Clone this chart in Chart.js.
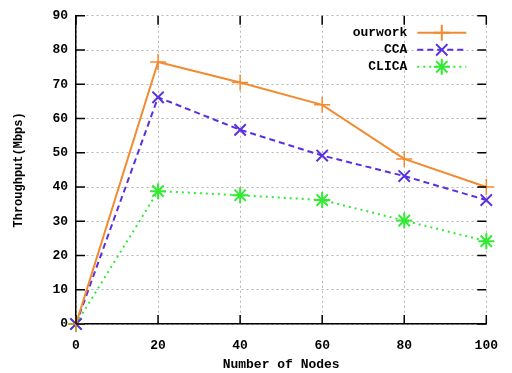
<!DOCTYPE html>
<html>
<head>
<meta charset="utf-8">
<script src="https://cdn.jsdelivr.net/npm/chart.js@4"></script>
<style>
  html, body { margin: 0; padding: 0; background: white; }
  #wrap { width: 512px; height: 373px; }
</style>
</head>
<body>
<div id="wrap"><canvas id="myChart" width="512" height="373"></canvas></div>
<script>
var nodes = [0, 20, 40, 60, 80, 100];
var ourwork = [0, 76.5, 70.5, 64, 48.2, 40];
var cca = [0, 66.2, 56.7, 49.2, 43.2, 36.2];
var clica = [0, 38.8, 37.6, 36.2, 30.2, 24.2];
var yTicks = [0, 10, 20, 30, 40, 50, 60, 70, 80, 90];

var monoFont = { family: "'Liberation Mono', 'DejaVu Sans Mono', monospace", size: 13, weight: 'bold' };

function toPoints(values) {
  return nodes.map(function(n, i) { return { x: n, y: values[i] }; });
}

// gnuplot style legend: text right aligned, sample on the right
var keyPlugin = {
  id: 'key',
  afterDraw: function(chart) {
    var ctx = chart.ctx;
    var area = chart.chartArea;
    var textRight = area.right - 79;
    var lineLeft = area.right - 69;
    var lineRight = area.right - 20;
    ctx.save();
    ctx.font = 'bold 13px ' + monoFont.family;
    ctx.textAlign = 'right';
    ctx.textBaseline = 'middle';
    chart.data.datasets.forEach(function(ds, i) {
      var y = area.top + 17 + i * 17;
      ctx.fillStyle = '#000';
      ctx.fillText(ds.label, textRight, y);
      ctx.strokeStyle = ds.borderColor;
      ctx.lineWidth = ds.borderWidth;
      ctx.setLineDash(ds.borderDash || []);
      ctx.beginPath();
      ctx.moveTo(lineLeft, y);
      ctx.lineTo(lineRight, y);
      ctx.stroke();
      ctx.setLineDash([]);
      ctx.fillStyle = ds.borderColor;
      Chart.helpers.drawPoint(ctx, {
        pointStyle: ds.pointStyle,
        rotation: 0,
        radius: ds.pointRadius,
        borderWidth: ds.pointBorderWidth
      }, (lineLeft + lineRight) / 2, y);
    });
    ctx.restore();
  }
};

// inner tick marks on all four sides of the box
var ticksPlugin = {
  id: 'innerTicks',
  afterDatasetsDraw: function(chart) {
    var ctx = chart.ctx;
    var area = chart.chartArea;
    var xs = chart.scales.x, ys = chart.scales.y;
    var len = 9;
    ctx.save();
    ctx.strokeStyle = '#000';
    ctx.lineWidth = 1.5;
    ctx.beginPath();
    xs.ticks.forEach(function(t) {
      var px = xs.getPixelForValue(t.value);
      ctx.moveTo(px, area.bottom); ctx.lineTo(px, area.bottom - len);
      ctx.moveTo(px, area.top); ctx.lineTo(px, area.top + len);
    });
    ys.ticks.forEach(function(t) {
      var py = ys.getPixelForValue(t.value);
      ctx.moveTo(area.left, py); ctx.lineTo(area.left + len, py);
      ctx.moveTo(area.right, py); ctx.lineTo(area.right - len, py);
    });
    ctx.stroke();
    ctx.restore();
  }
};

Chart.defaults.font.family = monoFont.family;
Chart.defaults.color = '#000';

new Chart(document.getElementById('myChart'), {
  type: 'line',
  data: {
    datasets: [{
      label: 'ourwork',
      data: toPoints(ourwork),
      borderColor: '#f28b30',
      backgroundColor: '#f28b30',
      borderWidth: 2,
      pointStyle: 'cross',
      pointRadius: 8,
      pointBorderWidth: 1.5,
      clip: false
    }, {
      label: 'CCA',
      data: toPoints(cca),
      borderColor: '#5a2fe0',
      backgroundColor: '#5a2fe0',
      borderWidth: 2,
      borderDash: [6, 4],
      pointStyle: 'crossRot',
      pointRadius: 8,
      pointBorderWidth: 2,
      clip: false
    }, {
      label: 'CLICA',
      data: toPoints(clica),
      borderColor: '#33ea33',
      backgroundColor: '#33ea33',
      borderWidth: 2,
      borderDash: [2, 4],
      pointStyle: 'star',
      pointRadius: 8,
      pointBorderWidth: 2,
      clip: false
    }]
  },
  options: {
    responsive: false,
    animation: false,
    layout: { padding: { left: 0, right: 25, top: 15, bottom: 0 } },
    plugins: {
      legend: { display: false },
      tooltip: { enabled: false }
    },
    scales: {
      x: {
        type: 'linear',
        min: 0,
        max: 100,
        ticks: { stepSize: 20, font: monoFont, padding: 14, maxRotation: 0 },
        grid: { color: '#b5b5b5', drawTicks: false, lineWidth: 1 },
        border: { color: '#000', width: 1.5, dash: [2, 3] },
        title: { display: true, text: 'Number of Nodes', font: monoFont, padding: { top: 10, bottom: 0 } },
        afterFit: function(scale) { scale.height = 49; }
      },
      y: {
        min: 0,
        max: 90,
        afterBuildTicks: function(scale) {
          scale.ticks = yTicks.map(function(v) { return { value: v }; });
        },
        ticks: { font: monoFont, padding: 8 },
        grid: { color: '#b5b5b5', drawTicks: false, lineWidth: 1 },
        border: { color: '#000', width: 1.5, dash: [2, 3] },
        title: { display: true, text: 'Throughput(Mbps)', font: { family: monoFont.family, size: 12, weight: 'bold' }, padding: { top: 12, bottom: 0 } },
        afterFit: function(scale) { scale.width = 76; }
      }
    }
  },
  plugins: [ticksPlugin, keyPlugin]
});
</script>
</body>
</html>
